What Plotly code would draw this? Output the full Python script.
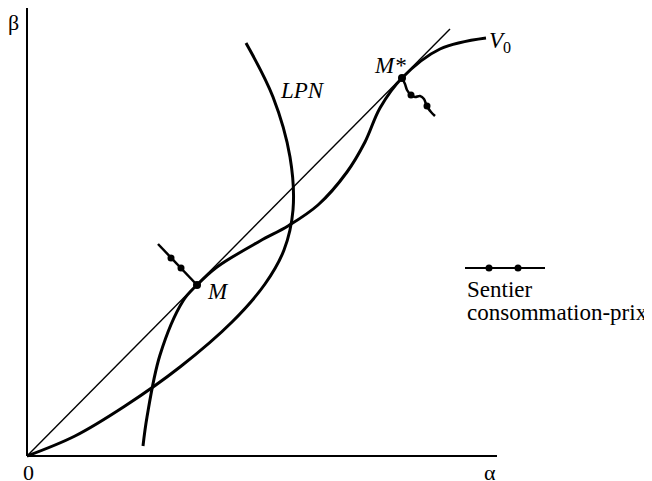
import plotly.graph_objects as go

# --- data (alpha, beta units; origin at 0) ---
lpn_alpha = [219, 246, 263, 266, 257, 238, 205, 153, 98, 48, 0]
lpn_beta = [413, 359, 299, 246, 206, 172, 134, 89, 50, 20, 0]

v0_alpha = [116, 120, 133, 156, 170, 190, 233, 261, 291, 320, 338, 353, 375, 413, 459]
v0_beta = [10, 39, 101, 155, 171, 189, 215, 230, 251, 284, 314, 348, 378, 407, 418]

diag_alpha = [0, 423]
diag_beta = [0, 427]

path_m_alpha = [131, 144, 154, 170]
path_m_beta = [212, 198, 188, 171]
beads_m_alpha = [144, 154]
beads_m_beta = [198, 188]

path_ms_alpha = [375, 378, 380, 384, 388, 393, 397, 399, 401, 404, 408]
path_ms_beta = [378, 372, 366, 361, 359, 360, 357, 352, 348, 344, 340]
beads_ms_alpha = [384, 400]
beads_ms_beta = [361, 350]

eq_alpha = [170, 375]
eq_beta = [171, 378]

legend_alpha = [438, 518]
legend_beta = [188, 188]
legend_beads_alpha = [462, 491]
legend_beads_beta = [188, 188]

axis_x_end = 470
axis_y_end = 451

BLACK = "#000000"
fig = go.Figure()

# axes
fig.add_trace(go.Scatter(x=[0, axis_x_end], y=[0, 0], mode="lines",
                         line=dict(color=BLACK, width=2), hoverinfo="skip"))
fig.add_trace(go.Scatter(x=[0, 0], y=[0, axis_y_end], mode="lines",
                         line=dict(color=BLACK, width=2), hoverinfo="skip"))

# diagonal
fig.add_trace(go.Scatter(x=diag_alpha, y=diag_beta, mode="lines",
                         line=dict(color=BLACK, width=1.4), hoverinfo="skip"))
# LPN
fig.add_trace(go.Scatter(x=lpn_alpha, y=lpn_beta, mode="lines",
                         line=dict(color=BLACK, width=3, shape="spline", smoothing=1.0),
                         hoverinfo="skip"))
# V0
fig.add_trace(go.Scatter(x=v0_alpha, y=v0_beta, mode="lines",
                         line=dict(color=BLACK, width=3, shape="spline", smoothing=1.0),
                         hoverinfo="skip"))
# price-consumption paths
fig.add_trace(go.Scatter(x=path_m_alpha, y=path_m_beta, mode="lines",
                         line=dict(color=BLACK, width=2.5), hoverinfo="skip"))
fig.add_trace(go.Scatter(x=beads_m_alpha, y=beads_m_beta, mode="markers",
                         marker=dict(color=BLACK, size=7), hoverinfo="skip"))
fig.add_trace(go.Scatter(x=path_ms_alpha, y=path_ms_beta, mode="lines",
                         line=dict(color=BLACK, width=2.5, shape="spline", smoothing=1.0),
                         hoverinfo="skip"))
fig.add_trace(go.Scatter(x=beads_ms_alpha, y=beads_ms_beta, mode="markers",
                         marker=dict(color=BLACK, size=7), hoverinfo="skip"))
# equilibrium points
fig.add_trace(go.Scatter(x=eq_alpha, y=eq_beta, mode="markers",
                         marker=dict(color=BLACK, size=8), hoverinfo="skip"))
# legend sample
fig.add_trace(go.Scatter(x=legend_alpha, y=legend_beta, mode="lines",
                         line=dict(color=BLACK, width=2), hoverinfo="skip"))
fig.add_trace(go.Scatter(x=legend_beads_alpha, y=legend_beads_beta, mode="markers",
                         marker=dict(color=BLACK, size=7), hoverinfo="skip"))

SERIF = "Liberation Serif"
def ann(x, y, text, size=22, xanchor="center", yanchor="middle"):
    fig.add_annotation(x=x, y=y, text=text, showarrow=False, xanchor=xanchor,
                       yanchor=yanchor, font=dict(family=SERIF, size=size, color=BLACK))

ann(-14, 434, "β")
ann(1, -16, "0")
ann(463, -16, "α")
ann(191, 165, "<i>M</i>", 23)
ann(363, 391, "<i>M*</i>", 23)
ann(275, 366, "<i>LPN</i>", 23)
ann(473, 414, "<i>V</i><sub>0</sub>", 23)
ann(438, 167, "Sentier", 23, xanchor="left")
ann(438, 144, "consommation-prix", 23, xanchor="left")

# page body has an 8px margin, so the figure is sized/offset to fit the window
fig.update_layout(
    width=644, height=473,
    margin=dict(l=0, r=0, t=0, b=0),
    paper_bgcolor="white", plot_bgcolor="white",
    showlegend=False,
    xaxis=dict(range=[-19, 625], visible=False, fixedrange=True),
    yaxis=dict(range=[-25, 448], visible=False, fixedrange=True),
)

fig.write_html("out.html")
